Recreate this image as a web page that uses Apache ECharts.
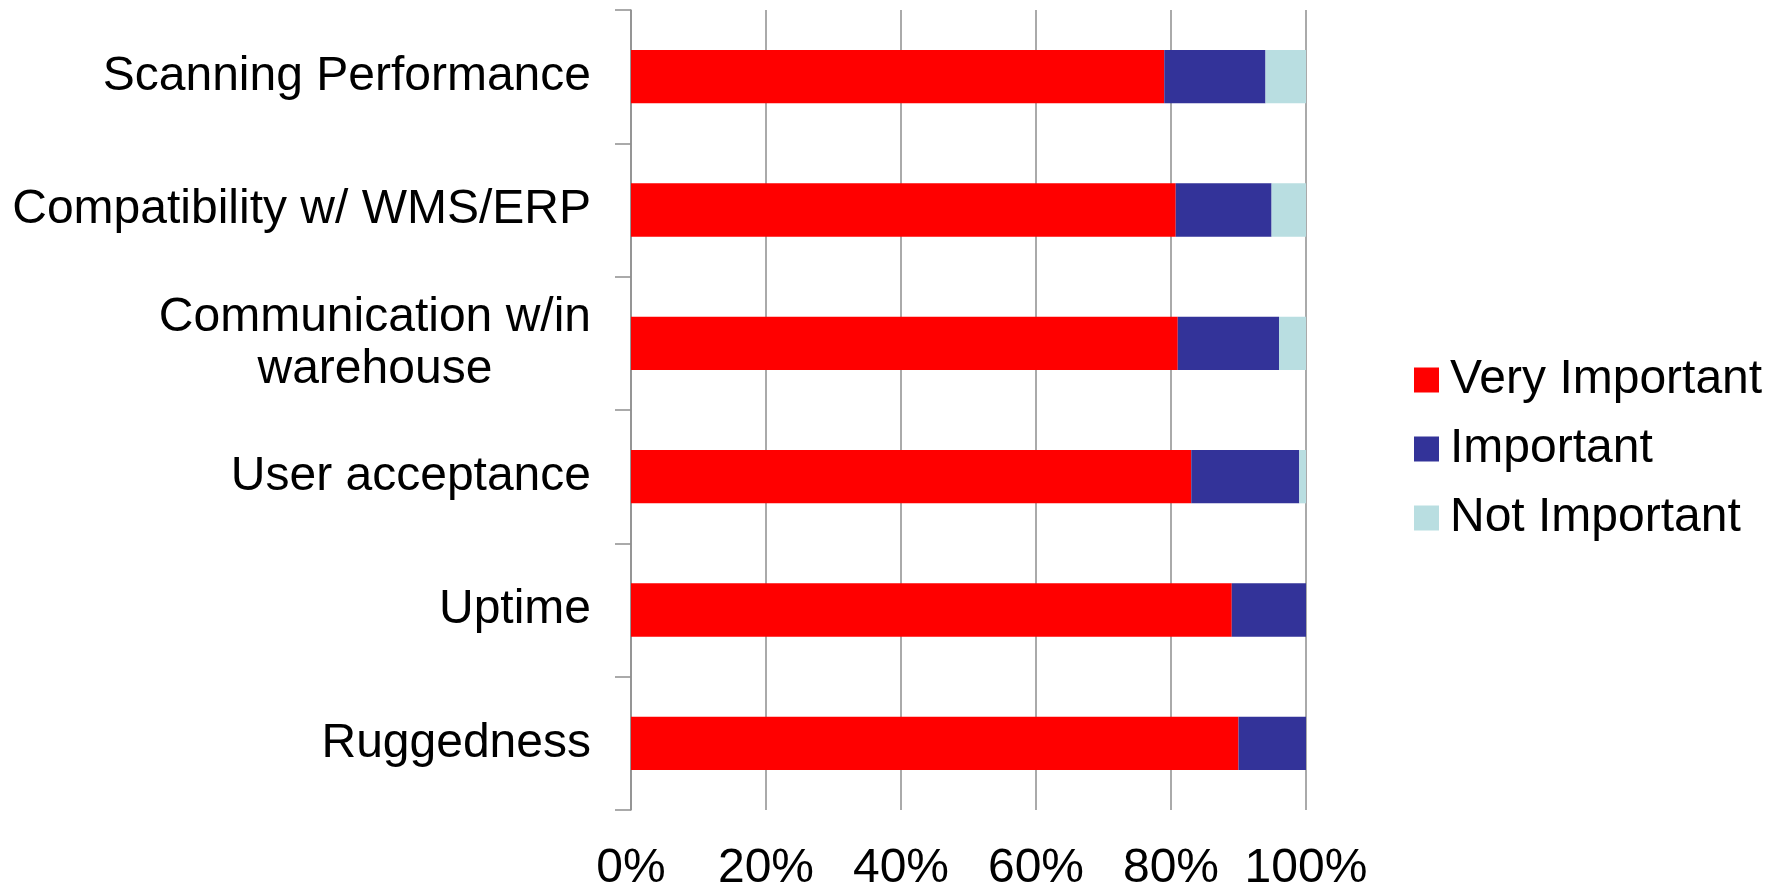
<!DOCTYPE html>
<html>
<head>
<meta charset="utf-8">
<script src="https://cdn.jsdelivr.net/npm/echarts@6/dist/echarts.min.js"></script>
<style>
html,body{margin:0;padding:0;background:#fff;}
#chart{width:1785px;height:885px;}
</style>
</head>
<body>
<div id="chart"></div>
<script>
const categories = ["Scanning Performance", "Compatibility w/ WMS/ERP", "Communication w/in\nwarehouse", "User acceptance", "Uptime", "Ruggedness"];
const veryImportant = [79, 80.7, 81, 83, 89, 90];
const important = [15, 14.2, 15, 16, 11, 10];
const notImportant = [6, 5.1, 4, 1, 0, 0];
const xTicks = [0, 20, 40, 60, 80, 100];
const seriesNames = ["Very Important", "Important", "Not Important"];
const colors = ["#FF0000", "#333399", "#B9DEE1"];

const FONT = "'Liberation Sans', Arial, sans-serif";
const chart = echarts.init(document.getElementById('chart'), null, {renderer: 'canvas'});
const values = [veryImportant, important, notImportant];

chart.setOption({
  animation: false,
  backgroundColor: '#ffffff',
  color: colors,
  grid: {left: 631, right: 479, top: 10, bottom: 75, containLabel: false, outerBoundsMode: 'none'},
  legend: {
    orient: 'vertical',
    left: 1409,
    top: 351,
    itemWidth: 25,
    itemHeight: 25,
    itemGap: 21,
    icon: 'rect',
    data: seriesNames,
    textStyle: {fontFamily: FONT, fontSize: 48, color: '#000', padding: [0, 0, 0, 6]}
  },
  xAxis: {
    type: 'value',
    min: xTicks[0],
    max: xTicks[xTicks.length - 1],
    interval: xTicks[1] - xTicks[0],
    axisLine: {show: false},
    axisTick: {show: false},
    splitLine: {show: true, lineStyle: {color: '#8e8e8e', width: 1.5}},
    axisLabel: {
      formatter: '{value}%',
      fontFamily: FONT, fontSize: 48, color: '#000', margin: 35
    }
  },
  yAxis: {
    type: 'category',
    inverse: true,
    data: categories,
    axisLine: {show: true, lineStyle: {color: '#8e8e8e', width: 1.5}},
    axisTick: {show: true, length: 16, lineStyle: {color: '#8e8e8e', width: 1.5}},
    splitLine: {show: false},
    axisLabel: {
      margin: 40,
      fontFamily: FONT, fontSize: 48, color: '#000',
      formatter: function (v) {
        return v.split('\n').map(function (s) { return '{c|' + s + '}'; }).join('\n');
      },
      rich: {c: {align: 'center', fontFamily: FONT, fontSize: 48, color: '#000', lineHeight: 52}}
    }
  },
  series: seriesNames.map(function (name, i) {
    return {
      name: name,
      type: 'bar',
      stack: 'total',
      barCategoryGap: '60%',
      data: values[i],
      itemStyle: {color: colors[i]}
    };
  })
});
</script>
</body>
</html>
